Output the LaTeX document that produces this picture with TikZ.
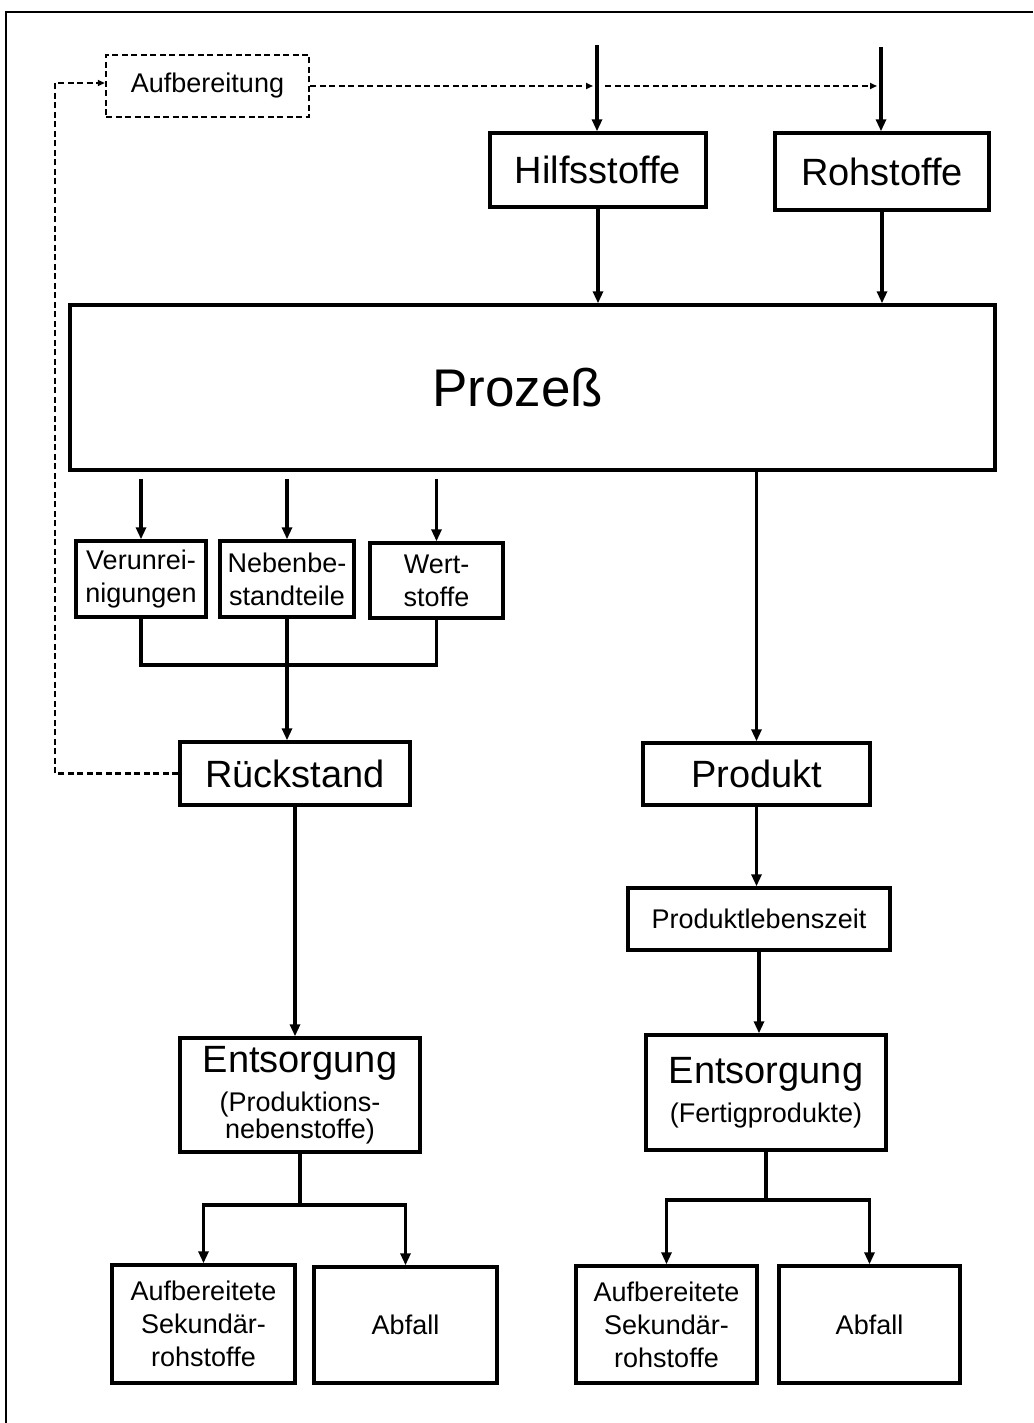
\documentclass[tikz,border=0pt]{standalone}
\usepackage{fontspec}
\setmainfont{Liberation Sans}
\usetikzlibrary{arrows.meta}
\tikzset{
  box/.style={draw, line width=3.4pt, inner sep=0pt, align=center, font=\fontsize{27}{33}\selectfont},
  bigbox/.style={box, font=\fontsize{38}{42}\selectfont},
  dbox/.style={draw, line width=2.4pt, dash pattern=on 6pt off 3.5pt, inner sep=0pt, align=center, font=\fontsize{27}{33}\selectfont},
  conn/.style={line width=3.4pt},
  arr/.style={line width=3.4pt, -{Triangle[length=12pt,width=10pt]}},
  darr/.style={line width=2.4pt, dash pattern=on 6pt off 3.5pt, -{Triangle[length=7pt,width=6pt]}},
}
\begin{document}
\begin{tikzpicture}[x=1pt,y=-1pt]
\useasboundingbox (0,0) rectangle (1033,1423);
% frame
\draw[line width=2pt] (1033,12) -- (6,12) -- (6,1423);

% nodes
\node[dbox, minimum width=203pt, minimum height=62pt] (aufb) at (207.5,86) {Aufbereitung};
\node[bigbox, minimum width=216pt, minimum height=74pt] (hilf) at (598,170) {Hilfsstoffe};
\node[bigbox, minimum width=214pt, minimum height=77pt] (roh) at (882,171.5) {Rohstoffe};
\node[box, font=\fontsize{53}{56}\selectfont, minimum width=925pt, minimum height=165pt] (proz) at (532.5,387.5) {Prozeß\hspace*{30pt}};
\node[box, minimum width=130pt, minimum height=76pt] (ver) at (141,579) {Verunrei-\\nigungen};
\node[box, minimum width=134pt, minimum height=76pt] (neb) at (287,579) {Nebenbe-\\standteile};
\node[box, minimum width=133pt, minimum height=75pt] (wert) at (436.5,580.5) {Wert-\\stoffe};
\node[bigbox, minimum width=230pt, minimum height=63pt] (rueck) at (295,773.5) {Rückstand};
\node[box, minimum width=240pt, minimum height=114pt] (entsL) at (300,1095)
  {{\fontsize{38}{42}\selectfont Entsorgung}\\[6pt]\fontsize{27}{24}\selectfont(Produktions-\\[-6pt]\fontsize{27}{24}\selectfont nebenstoffe)};
\node[box, minimum width=183pt, minimum height=118pt] (aufL) at (203.5,1324) {Aufbereitete\\Sekundär-\\rohstoffe};
\node[box, minimum width=183pt, minimum height=116pt] (abfL) at (405.5,1325) {Abfall};
\node[bigbox, minimum width=227pt, minimum height=62pt] (prod) at (756.5,774) {Produkt};
\node[box, minimum width=262pt, minimum height=62pt] (plz) at (759,919) {Produktlebenszeit};
\node[box, minimum width=240pt, minimum height=115pt] (entsR) at (766,1092.5)
  {{\fontsize{38}{42}\selectfont Entsorgung}\\[6pt](Fertigprodukte)};
\node[box, minimum width=181pt, minimum height=117pt] (aufR) at (666.5,1324.5) {Aufbereitete\\Sekundär-\\rohstoffe};
\node[box, minimum width=181pt, minimum height=117pt] (abfR) at (869.5,1324.5) {Abfall};

% coordinates
\coordinate (hin) at (597,45);
\coordinate (rin) at (881,47);
\coordinate (bar) at (0,665);
\coordinate (splitL) at (0,1205);
\coordinate (splitR) at (0,1200);
\coordinate (dl) at (55,83);

% inputs
\draw[arr] (hin) -- (hin |- hilf.north);
\draw[arr] (rin) -- (rin |- roh.north);
\draw[arr] (hilf.south) -- (hilf.south |- proz.north);
\draw[arr] (roh.south) -- (roh.south |- proz.north);

% process outputs
\draw[arr, shorten <=7pt] (proz.south -| ver.north) -- (ver.north);
\draw[arr, shorten <=7pt] (proz.south -| neb.north) -- (neb.north);
\draw[arr, shorten <=7pt] (proz.south -| wert.north) -- (wert.north);
\draw[arr] (proz.south -| prod.north) -- (prod.north);

% collect residues
\draw[conn] (ver.south) -- (ver.south |- bar) -- (wert.south |- bar) -- (wert.south);
\draw[arr] (neb.south) -- (neb.south |- rueck.north);

% left chain
\draw[arr] (rueck.south) -- (rueck.south |- entsL.north);
\draw[conn] (entsL.south) -- (entsL.south |- splitL);
\draw[arr] (entsL.south |- splitL) -| (aufL.north);
\draw[arr] (entsL.south |- splitL) -| (abfL.north);

% right chain
\draw[arr] (prod.south) -- (prod.south |- plz.north);
\draw[arr] (plz.south) -- (plz.south |- entsR.north);
\draw[conn] (entsR.south) -- (entsR.south |- splitR);
\draw[arr] (entsR.south |- splitR) -| (aufR.north);
\draw[arr] (entsR.south |- splitR) -| (abfR.north);

% dashed recycling loop
\draw[darr] (rueck.west) -| (dl) -- (dl -| aufb.west);
\draw[darr, shorten >=4pt] (aufb.east) -- (hin |- aufb.east);
\draw[darr, shorten >=4pt] ([xshift=8pt]hin |- aufb.east) -- (rin |- aufb.east);
\end{tikzpicture}
\end{document}
